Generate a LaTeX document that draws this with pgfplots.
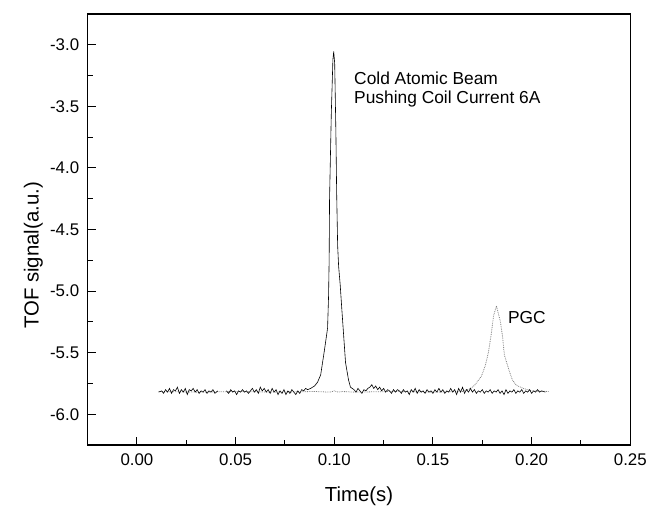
\documentclass[border=0pt]{standalone}
\usepackage{pgfplots}
\pgfplotsset{compat=1.18}
\usepackage{fontspec}
\setmainfont{Liberation Sans}
\begin{document}
\begin{tikzpicture}
\begin{axis}[
  name=ax,
  scale only axis,
  width=545bp, height=433bp,
  xmin=-0.025, xmax=0.25, ymin=-6.25, ymax=-2.75,
  xtick={0,0.05,0.1,0.15,0.2,0.25},
  ytick={-6,-5.5,-5,-4.5,-4,-3.5,-3},
  minor x tick num=1, minor y tick num=1,
  tick align=inside, tick pos=left,
  major tick length=8bp, minor tick length=5bp,
  every tick/.style={black, line width=1bp},
  axis line style={line width=1.2bp},
  xticklabel style={font=\fontsize{17}{19}\selectfont, yshift=-5bp,
    /pgf/number format/fixed, /pgf/number format/fixed zerofill,
    /pgf/number format/precision=2, /pgf/number format/assume math mode=true},
  yticklabel style={font=\fontsize{17}{19}\selectfont, xshift=-5bp,
    /pgf/number format/fixed, /pgf/number format/fixed zerofill,
    /pgf/number format/precision=1, /pgf/number format/assume math mode=true},
  xlabel={Time(s)}, ylabel={TOF signal(a.u.)},
  xlabel style={font=\fontsize{20.5}{22}\selectfont, at={(axis description cs:0.5,0)}, anchor=base, yshift=-57bp},
  ylabel style={font=\fontsize{20.5}{22}\selectfont, at={(axis description cs:-0.1,0.44)}, anchor=center},
  unbounded coords=jump,
]
% PGC curve (dotted gray)
\addplot[gray, densely dotted, line width=0.8bp] coordinates {
(0.0110,-5.815) (0.0300,-5.82) (0.0500,-5.815) (0.0700,-5.82) (0.0900,-5.815)
(0.0980,-5.82) (0.1000,-5.81) (0.1020,-5.82) (0.1040,-5.815) (0.1100,-5.82)
(0.1300,-5.815) (0.1500,-5.82) (0.1650,-5.815) (0.1690,-5.79)
(0.1711,-5.765) (0.1746,-5.69) (0.1766,-5.60) (0.1782,-5.49) (0.1797,-5.33)
(0.1807,-5.20) (0.1822,-5.12) (0.1842,-5.25) (0.1852,-5.36) (0.1862,-5.52)
(0.1887,-5.65) (0.1902,-5.72) (0.1923,-5.765) (0.1958,-5.79) (0.2000,-5.81)
(0.2090,-5.815)
};
% Cold atomic beam (black)
\addplot[black, line width=0.6bp] coordinates {
(0.0110,-5.82) (0.0125,-5.81) (0.0135,-5.83) (0.0145,-5.80) (0.0155,-5.82)
(0.0165,-5.79) (0.0175,-5.83) (0.0185,-5.80) (0.0195,-5.81) (0.0205,-5.78)
(0.0215,-5.83) (0.0225,-5.80) (0.0235,-5.82) (0.0245,-5.79) (0.0255,-5.84)
(0.0265,-5.80) (0.0275,-5.81) (0.0285,-5.79) (0.0295,-5.82) (0.0305,-5.80)
(0.0315,-5.83) (0.0325,-5.81) (0.0335,-5.82) (0.0345,-5.80) (0.0355,-5.83)
(0.0365,-5.81) (0.0375,-5.82) (0.0385,-5.80) (0.0395,-5.83) (0.0410,-5.81)
(0.0430,nan)
(0.0453,-5.81) (0.0465,-5.83) (0.0475,-5.80) (0.0485,-5.82) (0.0495,-5.81)
(0.0505,-5.84) (0.0515,-5.81) (0.0525,-5.82) (0.0535,-5.80) (0.0545,-5.82)
(0.0555,-5.81) (0.0565,-5.83) (0.0575,-5.81) (0.0585,-5.79) (0.0595,-5.82)
(0.0605,-5.80) (0.0615,-5.83) (0.0625,-5.78) (0.0635,-5.81) (0.0645,-5.79)
(0.0655,-5.82) (0.0665,-5.80) (0.0675,-5.83) (0.0685,-5.79) (0.0695,-5.82)
(0.0705,-5.80) (0.0715,-5.84) (0.0725,-5.81) (0.0735,-5.83) (0.0745,-5.80)
(0.0755,-5.84) (0.0765,-5.81) (0.0775,-5.83) (0.0785,-5.80) (0.0795,-5.82)
(0.0805,-5.84) (0.0815,-5.81) (0.0825,-5.83) (0.0835,-5.80) (0.0845,-5.81)
(0.0855,-5.79) (0.0865,-5.80)
(0.0880,-5.79) (0.0900,-5.77) (0.0915,-5.74) (0.0931,-5.68) (0.0951,-5.47)
(0.0966,-5.30) (0.0971,-5.04) (0.0974,-4.74) (0.0976,-4.25) (0.0985,-3.55)
(0.0993,-3.12) (0.0997,-3.055) (0.1002,-3.15) (0.1008,-3.70) (0.1012,-4.20)
(0.1017,-4.63) (0.1022,-4.80) (0.1030,-4.95) (0.1037,-5.12) (0.1047,-5.35)
(0.1057,-5.58) (0.1072,-5.72) (0.1082,-5.78) (0.1100,-5.80)
(0.1110,-5.82) (0.1120,-5.79) (0.1130,-5.81) (0.1140,-5.83) (0.1150,-5.80)
(0.1160,-5.81) (0.1170,-5.79) (0.1180,-5.78) (0.1190,-5.76) (0.1200,-5.79)
(0.1210,-5.77) (0.1220,-5.80) (0.1230,-5.78) (0.1240,-5.81) (0.1250,-5.79)
(0.1260,-5.82) (0.1270,-5.80) (0.1280,-5.81) (0.1290,-5.83) (0.1300,-5.80)
(0.1310,-5.82) (0.1320,-5.80) (0.1330,-5.81) (0.1340,-5.83) (0.1350,-5.80)
(0.1360,-5.82) (0.1370,-5.81) (0.1380,-5.84) (0.1390,-5.80) (0.1400,-5.82)
(0.1410,-5.79) (0.1420,-5.83) (0.1430,-5.80) (0.1440,-5.82) (0.1450,-5.81)
(0.1460,-5.83) (0.1470,-5.80) (0.1480,-5.82) (0.1490,-5.81) (0.1500,-5.83)
(0.1510,-5.80) (0.1520,-5.82) (0.1530,-5.79) (0.1540,-5.82) (0.1550,-5.80)
(0.1560,-5.83) (0.1570,-5.81) (0.1580,-5.82) (0.1590,-5.79) (0.1600,-5.82)
(0.1610,-5.80) (0.1620,-5.84) (0.1630,-5.79) (0.1640,-5.82) (0.1650,-5.78)
(0.1660,-5.83) (0.1670,-5.80) (0.1680,-5.82) (0.1690,-5.79) (0.1700,-5.82)
(0.1710,-5.80) (0.1720,-5.83) (0.1730,-5.81) (0.1740,-5.82) (0.1750,-5.80)
(0.1760,-5.83) (0.1770,-5.81) (0.1780,-5.82) (0.1790,-5.80) (0.1800,-5.83)
(0.1810,-5.81) (0.1820,-5.82) (0.1830,-5.80) (0.1840,-5.83) (0.1850,-5.81)
(0.1860,-5.84) (0.1870,-5.80) (0.1880,-5.83) (0.1890,-5.81) (0.1900,-5.82)
(0.1910,-5.80) (0.1920,-5.83) (0.1930,-5.81) (0.1940,-5.82) (0.1950,-5.80)
(0.1960,-5.83) (0.1970,-5.81) (0.1980,-5.82) (0.1990,-5.80) (0.2000,-5.83)
(0.2010,-5.81) (0.2020,-5.82) (0.2030,-5.80) (0.2040,-5.82) (0.2050,-5.81)
(0.2070,-5.82)
};
\node[anchor=base west, inner sep=0pt, font=\fontsize{17.5}{20}\selectfont] at (axis cs:0.110,-3.32) {Cold Atomic Beam};
\node[anchor=base west, inner sep=0pt, font=\fontsize{17.5}{20}\selectfont] at (axis cs:0.110,-3.48) {Pushing Coil Current 6A};
\node[anchor=base west, inner sep=0pt, font=\fontsize{17.5}{20}\selectfont] at (axis cs:0.188,-5.26) {PGC};
\end{axis}
\path ([xshift=-88bp,yshift=-62bp]ax.south west) rectangle ([xshift=17bp,yshift=14bp]ax.north east);
\end{tikzpicture}
\end{document}
